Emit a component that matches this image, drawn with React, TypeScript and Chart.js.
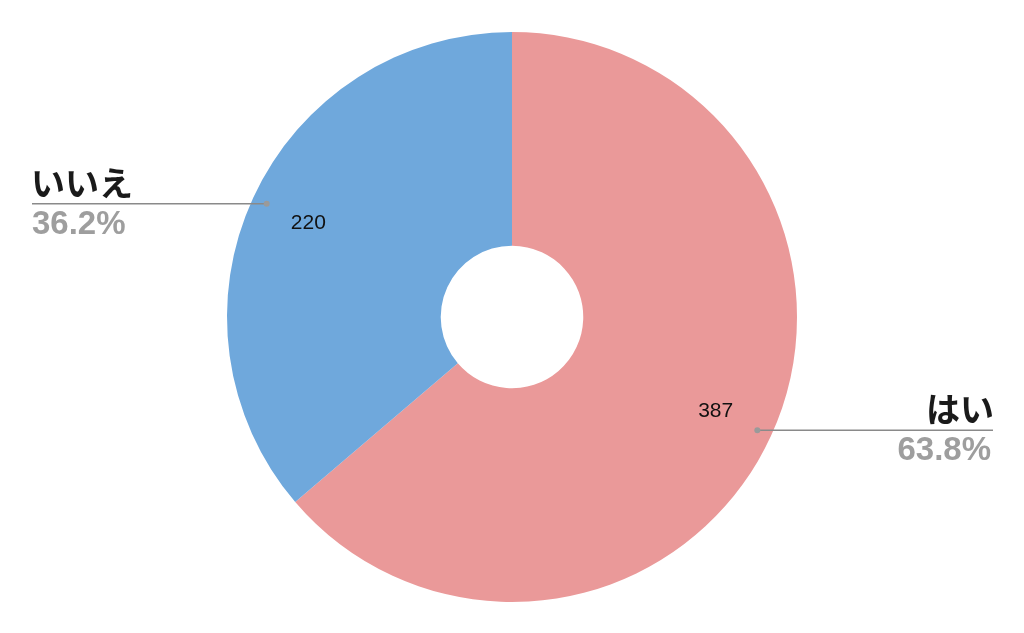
import React, { useEffect, useRef } from "react";
import { Chart, registerables } from "chart.js";

Chart.register(...registerables);

const categories = ["はい", "いいえ"];
const counts = [387, 220];
const percentLabels = ["63.8%", "36.2%"];
const sliceColors = ["#EA9999", "#6FA8DC"];

const calloutPlugin = {
  id: "callouts",
  afterDatasetsDraw(chart: any) {
    const ctx = chart.ctx as CanvasRenderingContext2D;
    const meta = chart.getDatasetMeta(0);
    const W = chart.width;
    meta.data.forEach((arc: any, i: number) => {
      const { x, y, startAngle, endAngle, outerRadius } = arc.getProps(
        ["x", "y", "startAngle", "endAngle", "outerRadius"],
        true
      );
      const mid = (startAngle + endAngle) / 2;
      const cos = Math.cos(mid);
      const sin = Math.sin(mid);
      // value label
      const vr = outerRadius * 0.787;
      ctx.save();
      ctx.fillStyle = "#111111";
      ctx.font = "21px 'Liberation Sans', Arial, sans-serif";
      ctx.textAlign = "center";
      ctx.textBaseline = "middle";
      ctx.fillText(String(counts[i]), x + cos * vr, y + sin * vr);
      // callout dot & line
      const dr = outerRadius * 0.948;
      const dx = x + cos * dr;
      const dy = y + sin * dr;
      const right = cos >= 0;
      const endX = right ? W - 31 : 32;
      ctx.strokeStyle = "#8a8a8a";
      ctx.lineWidth = 1.5;
      ctx.beginPath();
      ctx.moveTo(dx, dy);
      ctx.lineTo(endX, dy);
      ctx.stroke();
      ctx.fillStyle = "#9a9a9a";
      ctx.beginPath();
      ctx.arc(dx, dy, 3, 0, Math.PI * 2);
      ctx.fill();
      // category text
      ctx.textAlign = right ? "right" : "left";
      ctx.textBaseline = "alphabetic";
      ctx.fillStyle = "#1a1a1a";
      ctx.font = "bold 34px 'Noto Sans CJK JP', sans-serif";
      ctx.fillText(categories[i], right ? endX + 1 : endX - 1, dy - 8);
      ctx.fillStyle = "#9e9e9e";
      ctx.font = "bold 33px 'Liberation Sans', Arial, sans-serif";
      ctx.fillText(percentLabels[i], right ? endX - 2 : endX, dy + 30);
      ctx.restore();
    });
  },
};

export default function App() {
  const ref = useRef<HTMLCanvasElement | null>(null);
  useEffect(() => {
    if (!ref.current) return;
    const chart = new Chart(ref.current, {
      type: "doughnut",
      data: {
        labels: categories,
        datasets: [
          {
            data: counts,
            backgroundColor: sliceColors,
            borderWidth: 0,
          },
        ],
      },
      options: {
        responsive: false,
        animation: false,
        cutout: "25%",
        layout: { padding: { top: 32, bottom: 31, left: 20, right: 20 } },
        plugins: {
          legend: { display: false },
          tooltip: { enabled: false },
        },
      },
      plugins: [calloutPlugin],
    });
    return () => chart.destroy();
  }, []);
  return (
    <div style={{ position: "fixed", left: 0, top: 0, width: 1024, height: 633, background: "#fff" }}>
      <canvas ref={ref} width={1024} height={633} />
    </div>
  );
}
